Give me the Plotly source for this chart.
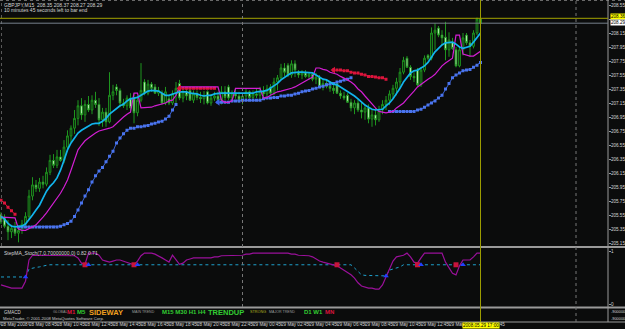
import plotly.graph_objects as go

W, H = 625, 329
BG = "#0b0c0c"
FONT = "Liberation Sans, Arial, sans-serif"

# ---------------- data (GBPJPY M15, 28 May 06:45 -> 29 May 17:00) ----------------
opens = [205.56, 205.52, 205.39, 205.31, 205.36, 205.29, 205.33, 205.42, 205.53, 205.82,
         205.98, 205.93, 206.02, 205.99, 206.16, 206.33, 206.26, 206.38, 206.33, 206.52,
         206.68, 206.79, 206.93, 207.11, 206.98, 207.13, 207.05, 207.19, 207.13, 206.91,
         207.02, 206.88, 207.26, 207.38, 207.33, 207.15, 207.11, 207.22, 207.21, 207.01,
         207.19, 207.45, 207.29, 207.42, 207.38, 207.29, 207.29, 207.15, 207.21, 207.15,
         207.28, 207.43, 207.22, 207.31, 207.33, 207.19, 207.28, 207.23, 207.21, 207.31,
         207.15, 207.22, 207.25, 207.19, 207.31, 207.38, 207.22, 207.28, 207.25, 207.19,
         207.25, 207.31, 207.23, 207.28, 207.26, 207.32, 207.28, 207.38, 207.29, 207.45,
         207.51, 207.65, 207.69, 207.55, 207.71, 207.59, 207.55, 207.58, 207.53, 207.56,
         207.49, 207.52, 207.38, 207.43, 207.39, 207.36, 207.43, 207.29, 207.25, 207.26,
         207.16, 207.08, 207.15, 207.05, 207.02, 207.08, 206.92, 206.98, 206.91, 207.05,
         207.13, 207.19, 207.28, 207.36, 207.45, 207.59, 207.79, 207.66, 207.53, 207.62,
         207.41, 207.62, 207.83, 207.79, 208.15, 208.22, 208.12, 208.09, 207.91, 208.02,
         207.91, 207.68, 207.91, 208.12, 208.01, 207.96, 208.15, 208.35]
highs = [205.59, 205.56, 205.48, 205.41, 205.45, 205.39, 205.48, 205.59, 205.91, 206.09,
         206.05, 206.08, 206.11, 206.23, 206.41, 206.42, 206.48, 206.48, 206.62, 206.76,
         206.83, 207.05, 207.19, 207.22, 207.19, 207.25, 207.26, 207.31, 207.22, 207.08,
         207.08, 207.59, 207.41, 207.42, 207.36, 207.21, 207.26, 207.29, 207.29, 207.25,
         207.72, 207.49, 207.48, 207.45, 207.42, 207.38, 207.33, 207.38, 207.26, 207.33,
         207.45, 207.48, 207.36, 207.36, 207.36, 207.33, 207.33, 207.31, 207.32, 207.33,
         207.28, 207.31, 207.31, 207.39, 207.39, 207.41, 207.33, 207.36, 207.31, 207.29,
         207.36, 207.33, 207.33, 207.36, 207.38, 207.39, 207.41, 207.42, 207.51, 207.55,
         207.71, 207.72, 207.72, 207.76, 207.76, 207.62, 207.62, 207.62, 207.59, 207.59,
         207.58, 207.55, 207.48, 207.48, 207.45, 207.42, 207.45, 207.33, 207.31, 207.29,
         207.21, 207.19, 207.21, 207.16, 207.12, 207.13, 207.05, 207.08, 207.11, 207.19,
         207.25, 207.33, 207.41, 207.51, 207.65, 207.81, 207.82, 207.69, 207.59, 207.65,
         207.66, 207.83, 207.85, 208.23, 208.29, 208.25, 208.19, 208.31, 208.16, 208.08,
         207.95, 207.95, 208.15, 208.15, 208.05, 208.19, 208.37, 208.37]
lows = [205.42, 205.36, 205.19, 205.22, 205.25, 205.16, 205.28, 205.36, 205.48, 205.76,
        205.88, 205.88, 205.93, 205.96, 206.12, 206.22, 206.22, 206.31, 206.29, 206.48,
        206.59, 206.71, 206.83, 206.91, 206.88, 207.02, 206.99, 207.08, 206.82, 206.81,
        206.81, 206.86, 207.19, 207.26, 207.09, 207.08, 207.05, 207.01, 206.86, 206.96,
        207.16, 207.26, 207.26, 207.31, 207.28, 207.25, 207.13, 207.12, 207.12, 207.12,
        207.12, 207.19, 207.16, 207.19, 207.18, 207.15, 207.19, 207.15, 207.13, 207.13,
        207.11, 207.18, 207.16, 207.13, 207.19, 207.19, 207.16, 207.21, 207.15, 207.13,
        207.19, 207.21, 207.18, 207.22, 207.19, 207.23, 207.25, 207.26, 207.26, 207.33,
        207.48, 207.53, 207.52, 207.51, 207.52, 207.51, 207.49, 207.51, 207.48, 207.46,
        207.42, 207.36, 207.33, 207.36, 207.31, 207.28, 207.28, 207.21, 207.19, 207.15,
        207.03, 206.99, 207.02, 206.93, 206.91, 206.86, 206.81, 206.83, 206.88, 206.99,
        207.05, 207.12, 207.21, 207.26, 207.36, 207.56, 207.65, 207.48, 207.45, 207.39,
        207.38, 207.59, 207.76, 207.76, 207.91, 208.09, 207.98, 207.76, 207.81, 207.91,
        207.66, 207.66, 207.83, 207.98, 207.81, 207.93, 208.12, 208.27]
closes = [205.45, 205.39, 205.31, 205.36, 205.29, 205.33, 205.42, 205.53, 205.82, 205.98,
          205.93, 206.02, 205.99, 206.16, 206.33, 206.26, 206.38, 206.33, 206.52, 206.68,
          206.79, 206.93, 207.11, 206.98, 207.13, 207.05, 207.19, 207.13, 206.91, 207.02,
          206.88, 207.26, 207.31, 207.33, 207.15, 207.11, 207.22, 207.08, 207.01, 207.19,
          207.33, 207.29, 207.42, 207.36, 207.29, 207.33, 207.15, 207.31, 207.15, 207.28,
          207.36, 207.22, 207.31, 207.25, 207.19, 207.28, 207.23, 207.21, 207.26, 207.15,
          207.22, 207.25, 207.19, 207.31, 207.23, 207.22, 207.28, 207.25, 207.19, 207.25,
          207.31, 207.23, 207.28, 207.26, 207.32, 207.28, 207.35, 207.29, 207.45, 207.51,
          207.65, 207.59, 207.55, 207.71, 207.62, 207.55, 207.58, 207.53, 207.56, 207.49,
          207.52, 207.38, 207.43, 207.39, 207.36, 207.33, 207.29, 207.25, 207.22, 207.16,
          207.08, 207.15, 207.05, 207.02, 207.08, 206.92, 206.98, 206.91, 207.05, 207.13,
          207.19, 207.28, 207.36, 207.45, 207.59, 207.76, 207.66, 207.53, 207.51, 207.41,
          207.62, 207.79, 207.79, 208.15, 208.19, 208.12, 208.08, 207.91, 208.05, 207.93,
          207.68, 207.91, 208.08, 208.01, 207.96, 208.15, 208.35, 208.29]

fast_ma = ([205.53, 205.49, 205.43, 205.39, 205.38, 205.38, 205.39, 205.42, 205.48, 205.55,
            205.62, 205.69, 205.79, 205.89, 205.96, 206.01, 206.08, 206.19, 206.33, 206.48,
            206.58, 206.65, 206.72, 206.76, 206.79, 206.82, 206.85, 206.86, 206.86, 206.89,
            206.93, 206.99, 207.03, 207.08, 207.11, 207.13, 207.18, 207.21, 207.22, 207.23,
            207.26, 207.29, 207.32, 207.33, 207.33, 207.32, 207.29, 207.26, 207.26, 207.28,
            207.29, 207.31, 207.31, 207.31, 207.29, 207.29, 207.28, 207.26, 207.25, 207.26,
            207.26, 207.28] + [207.29] * 11 +
           [207.31, 207.31, 207.32, 207.33, 207.36, 207.39, 207.43, 207.48, 207.52, 207.55, 207.58]
           + [207.59] * 5 +
           [207.58, 207.55, 207.52, 207.49, 207.48, 207.45, 207.42, 207.41, 207.38, 207.35,
            207.32, 207.29, 207.25, 207.21, 207.16, 207.12, 207.09, 207.06, 207.05, 207.05,
            207.06, 207.11, 207.15, 207.21, 207.28, 207.36, 207.45, 207.52, 207.58, 207.61,
            207.62, 207.65, 207.68, 207.73, 207.81, 207.88, 207.93, 207.98, 208.01, 208.02,
            208.02, 207.99, 207.95, 207.93, 207.95, 207.96, 208.02, 208.09, 208.15])

slow_ma = ([205.52] * 4 +
           [205.51, 205.35, 205.33, 205.33, 205.35, 205.38,
            205.41, 205.46, 205.52, 205.58, 205.65, 205.71, 205.78, 205.86, 205.95, 206.05,
            206.19, 206.33, 206.48, 206.55, 206.61, 206.65, 206.69, 206.72, 206.75, 206.76,
            206.78, 206.79, 206.81, 206.86, 206.91, 206.95, 206.99, 207.02, 207.29, 207.29,
            207.08, 207.08, 207.09, 207.09, 207.11, 207.12, 207.13, 207.15, 207.18, 207.19,
            207.26] + [207.38] * 12 + [207.19, 207.16, 207.16, 207.18] + [207.36] * 8 +
           [207.22, 207.23, 207.26, 207.29, 207.31,
            207.32, 207.33, 207.35, 207.36, 207.38, 207.41, 207.43, 207.46, 207.49, 207.52,
            207.65, 207.65, 207.63, 207.62, 207.59, 207.58, 207.56, 207.53, 207.51, 207.48,
            207.45, 207.41, 207.35, 207.31, 207.25, 207.19, 207.13, 207.08, 207.03, 207.02,
            207.01, 207.02, 207.03, 207.08, 207.11, 207.15, 207.21, 207.26, 207.32, 207.38,
            207.42, 207.46, 207.49, 207.52, 207.56, 207.62, 207.68, 207.72, 207.75, 207.79,
            208.12, 208.12, 207.85, 207.83, 207.82, 207.82, 207.85, 207.89])

step_up = ([None] * 5 + [205.38] * 12 +
           [205.39, 205.41, 205.43, 205.46, 205.53, 205.62, 205.72, 205.82, 205.91, 206.02,
            206.11, 206.18, 206.23, 206.31, 206.39, 206.46, 206.58, 206.65, 206.71, 206.76,
            206.79, 206.79, 206.81, 206.81, 206.82, 206.83, 206.85, 206.86, 206.88, 206.89,
            206.92, 206.96, 207.05, 207.13] + [None] * 11 +
           [207.16] * 4 + [207.18] * 3 + [207.19] * 6 +
           [207.21, 207.22, 207.22, 207.23, 207.23, 207.25, 207.25, 207.26, 207.26, 207.28,
            207.29, 207.31, 207.32, 207.33, 207.35, 207.36, 207.38, 207.39, 207.41, 207.42,
            207.43, 207.45, 207.46, 207.48, 207.49, 207.51] + [None] * 10 +
           [207.03] * 8 +
           [207.05, 207.06, 207.09, 207.12, 207.15, 207.18, 207.22, 207.26, 207.35, 207.43,
            207.51, 207.55, 207.58, 207.61, 207.62, 207.63, 207.66, 207.69, 207.73])

step_down = ([205.76, 205.72, 205.66, 205.61, 205.56] + [None] * 46 + [207.36] * 11 +
             [None] * 33 +
             [207.62, 207.62, 207.62, 207.61, 207.61, 207.59, 207.58, 207.58, 207.56, 207.55,
              207.53, 207.53, 207.52, 207.51, 207.51, 207.49] + [None] * 27)

# step-MA signal arrows in the price window (bar index, price)
arrow_up_bar, arrow_up_price = [62], [207.16]
arrow_dn_bar, arrow_dn_price = [51, 95], [207.36, 207.62]

# StepMA_Stoch window
stoch_main = ([0.36, 0.34, 0.32, 0.30, 0.30, 0.30, 0.30, 0.43, 0.83, 0.92] + [0.92] * 11 +
              [0.91, 0.87, 0.77, 0.75, 0.96, 0.96, 0.96, 0.92, 0.83, 0.81, 0.79, 0.81, 0.83,
               0.83, 0.81, 0.79, 0.77, 0.74, 0.81, 0.91, 0.96, 0.96, 0.96, 0.94, 0.91, 0.87,
               0.83, 0.79, 0.92, 0.83, 0.75, 0.77, 0.83, 0.85] + [0.87] * 6 +
              [0.89, 0.89, 0.91, 0.91] + [0.92] * 5 + [0.94, 0.94] + [0.96] * 11 +
              [0.94, 0.94, 0.92, 0.92, 0.91, 0.91, 0.89, 0.85, 0.81, 0.79, 0.77, 0.75, 0.74,
               0.72, 0.68, 0.64, 0.60, 0.55, 0.49, 0.40, 0.34, 0.32, 0.30, 0.30, 0.28, 0.28,
               0.36, 0.51, 0.66, 0.81, 0.89, 0.91, 0.92, 0.96, 0.89, 0.79, 0.77, 0.87, 0.96]
              + [0.96] * 5 +
              [0.79, 0.68, 0.58, 0.55, 0.72, 0.83, 0.83, 0.83, 0.89, 0.96, 0.96])
stoch_signal = ([0.51] * 8 + [0.66, 0.68, 0.69, 0.70, 0.72, 0.73] + [0.74] * 87 +
                [0.68, 0.62, 0.55] + [0.54] * 6 + [0.53] + [0.64, 0.66, 0.68, 0.70] + [0.74] * 23)
stoch_dn_bar, stoch_dn_val = [24, 38, 96, 119, 130], [0.74, 0.74, 0.74, 0.74, 0.74]
stoch_up_bar, stoch_up_val = [7, 25, 39, 110, 120, 132], [0.51, 0.74, 0.74, 0.53, 0.74, 0.74]

time_tick_bars = [0, 8, 16, 24, 32, 40, 48, 56, 64, 72, 80, 88, 96, 104, 112, 120, 128, 136]
time_tick_text = ["28 May 2008", "28 May 08:45", "28 May 10:45", "28 May 12:45", "28 May 14:45",
                  "28 May 16:45", "28 May 18:45", "28 May 20:45", "28 May 22:45", "29 May 00:45",
                  "29 May 02:45", "29 May 04:45", "29 May 06:45", "29 May 08:45", "29 May 10:45",
                  "29 May 12:45", "29 May 14:45", "29 May 16:45"]
price_ticks = [205.15, 205.35, 205.55, 205.75, 205.95, 206.15, 206.35, 206.55, 206.75,
               206.95, 207.15, 207.35, 207.55, 207.75, 207.95, 208.15, 208.35, 208.55]
bid_price, ask_price = 208.29, 208.36
day_sep_bar = 69
cursor_bar = 137
cursor_label = "2008.05.29 17:00"

n = len(closes)
for arr in (opens, highs, lows, fast_ma, slow_ma, step_up, step_down, stoch_main, stoch_signal):
    assert len(arr) == n, len(arr)
bars = list(range(n))

# ---------------- layout helpers (pixel geometry) ----------------
def py(p):
    return 1 - p / H

def pxx(p):
    return p / W

XR = [-1 / 3.5, 607 / 3.5]
XD = [0, 608 / W]

fig = go.Figure()

fig.add_trace(go.Candlestick(
    x=bars, open=opens, high=highs, low=lows, close=closes,
    increasing=dict(line=dict(color="#1e951e", width=1), fillcolor=BG),
    decreasing=dict(line=dict(color="#1e951e", width=1), fillcolor="#dcffd4"),
    whiskerwidth=0, xaxis="x", yaxis="y", hoverinfo="skip"))

fig.add_trace(go.Scatter(x=bars, y=step_up, mode="lines+markers", xaxis="x", yaxis="y",
                         line=dict(color="#3b63d6", width=1),
                         marker=dict(symbol="square", size=3, color="#4a74ee"),
                         connectgaps=False, hoverinfo="skip"))
fig.add_trace(go.Scatter(x=bars, y=step_down, mode="lines+markers", xaxis="x", yaxis="y",
                         line=dict(color="#c8102e", width=1),
                         marker=dict(symbol="square", size=3, color="#dc143c"),
                         connectgaps=False, hoverinfo="skip"))
fig.add_trace(go.Scatter(x=bars, y=slow_ma, mode="lines", xaxis="x", yaxis="y",
                         line=dict(color="#d21ed2", width=1.2), hoverinfo="skip"))
fig.add_trace(go.Scatter(x=bars, y=fast_ma, mode="lines", xaxis="x", yaxis="y",
                         line=dict(color="#12b4ec", width=1.7), hoverinfo="skip"))
fig.add_trace(go.Scatter(x=arrow_up_bar, y=arrow_up_price, mode="markers", xaxis="x", yaxis="y",
                         marker=dict(symbol="triangle-left", size=6, color="#3b63e6"),
                         hoverinfo="skip"))
fig.add_trace(go.Scatter(x=arrow_dn_bar, y=arrow_dn_price, mode="markers", xaxis="x", yaxis="y",
                         marker=dict(symbol="triangle-left", size=6, color="#dc143c"),
                         hoverinfo="skip"))

# stoch window
fig.add_trace(go.Scatter(x=bars, y=stoch_signal, mode="lines", xaxis="x2", yaxis="y2",
                         line=dict(color="#1ea0cc", width=1, dash="dot"), hoverinfo="skip"))
fig.add_trace(go.Scatter(x=bars, y=stoch_main, mode="lines", xaxis="x2", yaxis="y2",
                         line=dict(color="#9a109a", width=1.2), hoverinfo="skip"))
fig.add_trace(go.Scatter(x=stoch_dn_bar, y=stoch_dn_val, mode="markers", xaxis="x2", yaxis="y2",
                         marker=dict(symbol="square", size=5, color="#c8143c"), hoverinfo="skip"))
fig.add_trace(go.Scatter(x=stoch_up_bar, y=stoch_up_val, mode="markers", xaxis="x2", yaxis="y2",
                         marker=dict(symbol="triangle-up", size=5, color="#2040ff"), hoverinfo="skip"))

# empty GMACD window trace (keeps axis alive)
fig.add_trace(go.Scatter(x=[None], y=[None], xaxis="x3", yaxis="y3", hoverinfo="skip"))

axcol = "#9a9a9a"
lblfont = dict(family=FONT, size=4.6, color="#d4d4d4")
price_text = ["" if abs(v - 208.35) < 1e-6 else f"{v:.2f}" for v in price_ticks]

fig.update_layout(
    width=W, height=H, margin=dict(l=0, r=0, t=0, b=0),
    paper_bgcolor=BG, plot_bgcolor=BG, template="none", showlegend=False,
    font=dict(family=FONT, size=5, color="#d4d4d4"),
    xaxis=dict(domain=XD, range=XR, anchor="y", showgrid=False, zeroline=False,
               showticklabels=False, ticks="", rangeslider=dict(visible=False),
               automargin=False, fixedrange=True),
    xaxis2=dict(domain=XD, range=XR, anchor="y2", matches="x", showgrid=False, zeroline=False,
                showticklabels=False, ticks="", automargin=False),
    xaxis3=dict(domain=XD, range=XR, anchor="y3", matches="x", showgrid=False, zeroline=False,
                tickmode="array", tickvals=time_tick_bars, ticktext=time_tick_text,
                ticks="", tickfont=lblfont, tickangle=0, ticklabelstandoff=-1,
                ticklabelposition="outside right", automargin=False),
    yaxis=dict(domain=[py(246.5), py(1)], range=[205.10, 208.35 + 18 / 70], anchor="x",
               side="right", showgrid=False, zeroline=False, tickmode="array",
               tickvals=price_ticks, ticktext=price_text,
               ticks="outside", ticklen=2, tickcolor=axcol, tickfont=lblfont,
               ticklabelstandoff=-1, automargin=False),
    yaxis2=dict(domain=[py(307), py(248)], range=[-3 / 53, 56 / 53], anchor="x2", side="right",
                showgrid=False, zeroline=False, tickmode="array", tickvals=[0, 1],
                ticktext=["0", "1"], ticks="outside", ticklen=2, tickcolor=axcol,
                tickfont=lblfont, ticklabelstandoff=-1, automargin=False),
    yaxis3=dict(domain=[py(321.5), py(308.5)], range=[0, 1], anchor="x3", side="right",
                showgrid=False, zeroline=False, showticklabels=False, ticks="", automargin=False),
)

shapes = []
def hline(ypx, x0=0, x1=W, color="#8c8c8c", width=1, dash="solid"):
    shapes.append(dict(type="line", xref="paper", yref="paper", x0=pxx(x0), x1=pxx(x1),
                       y0=py(ypx), y1=py(ypx), line=dict(color=color, width=width, dash=dash)))

# window frames
hline(0.5, color="#6a6a6a", dash="dot")
hline(247, width=2, color="#9a9a9a")
hline(307.5, width=2, color="#9a9a9a")
hline(322, color="#9a9a9a")
shapes.append(dict(type="line", xref="paper", yref="paper", x0=pxx(608), x1=pxx(608),
                   y0=py(322), y1=1, line=dict(color="#9a9a9a", width=1)))
shapes.append(dict(type="line", xref="paper", yref="paper", x0=pxx(1.5), x1=pxx(1.5),
                   y0=py(246), y1=1, line=dict(color="#5a5a5a", width=1, dash="dot")))
# time-scale tick marks
for b in time_tick_bars:
    shapes.append(dict(type="line", xref="x", yref="paper", x0=b, x1=b, y0=py(322), y1=py(325),
                       line=dict(color="#9a9a9a", width=1)))
# bid / ask lines
shapes.append(dict(type="line", xref="paper", yref="y", x0=0, x1=pxx(608), y0=ask_price,
                   y1=ask_price, line=dict(color="#a4a400", width=1)))
shapes.append(dict(type="line", xref="paper", yref="y", x0=0, x1=pxx(608), y0=bid_price,
                   y1=bid_price, line=dict(color="#76808c", width=1)))
# period separator + cursor + shift marker
shapes.append(dict(type="line", xref="x", yref="paper", x0=day_sep_bar, x1=day_sep_bar,
                   y0=py(307), y1=py(1), line=dict(color="#777777", width=1, dash="dot")))
shapes.append(dict(type="line", xref="x", yref="paper", x0=cursor_bar, x1=cursor_bar,
                   y0=py(322), y1=1, line=dict(color="#9c9c00", width=1)))
shapes.append(dict(type="line", xref="paper", yref="paper", x0=pxx(576), x1=pxx(576),
                   y0=py(322), y1=1, line=dict(color="#777777", width=1, dash="dot")))
fig.update_layout(shapes=shapes)

ann = []
def text(xp, yp, s, size=5, color="#d4d4d4", bold=False, xanchor="left", bg=None):
    d = dict(xref="paper", yref="paper", x=pxx(xp), y=py(yp), text=("<b>%s</b>" % s) if bold else s,
             showarrow=False, xanchor=xanchor, yanchor="middle",
             font=dict(family=FONT, size=size, color=color), borderpad=0)
    if bg:
        d["bgcolor"] = bg
    ann.append(d)

text(3, 4.5, "GBPJPY,M15  208.35 208.37 208.27 208.29")
text(3, 9.5, "10 minutes 45 seconds left to bar end")
text(609.5, 17, f"{ask_price:.2f}", size=4.6, color="#000000", bg="#ffff00")
text(609.5, 22.5, f"{bid_price:.2f}", size=4.6, color="#000000", bg="#ffffff")
text(3, 252.5, "StepMA_Stoch(7,0.70000000,0) 0.82 0.71")
text(609.5, 311, "-900000", size=3.9)
text(609.5, 318, "-900000", size=3.9)
text(3, 312, "GMACD", size=4.5)
text(52, 312, "GLOBAL", size=3.6, color="#9a9a9a")
text(66, 312, "M1", size=6, color="#dc143c", bold=True)
text(76, 312, "M5", size=6, color="#32cd32", bold=True)
text(88, 312, "SIDEWAY", size=7.5, color="#f0a020", bold=True)
text(131, 312, "MAIN TREND", size=3.6, color="#9a9a9a")
text(161, 312, "M15 M30 H1 H4", size=6, color="#32cd32", bold=True)
text(207, 312, "TRENDUP", size=7.5, color="#32cd32", bold=True)
text(249, 312, "STRONG", size=3.8, color="#b0b020")
text(268, 312, "MAJOR TREND", size=3.6, color="#9a9a9a")
text(303, 312, "D1 W1", size=6, color="#32cd32", bold=True)
text(324, 312, "MN", size=6, color="#dc143c", bold=True)
text(2, 318.5, "MetaTrader, © 2001-2008 MetaQuotes Software Corp.", size=4.2, color="#c8c8c8")
ann.append(dict(xref="x", yref="paper", x=cursor_bar, y=py(325.5), text=cursor_label,
                showarrow=False, xanchor="center", yanchor="middle", bgcolor="#ffff00",
                font=dict(family=FONT, size=4.6, color="#000000"), borderpad=0))
fig.update_layout(annotations=ann)

fig.write_html("out.html")
